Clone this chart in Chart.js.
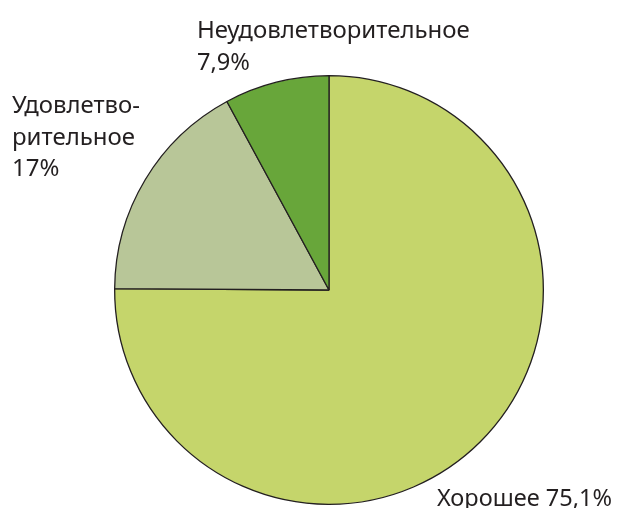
<!DOCTYPE html>
<html>
<head>
<meta charset="utf-8">
<script src="https://cdn.jsdelivr.net/npm/chart.js@4/dist/chart.umd.min.js"></script>
<style>
  html, body { margin: 0; padding: 0; background: #fff; }
  #wrap { width: 618px; height: 508px; }
</style>
</head>
<body>
<div id="wrap"><canvas id="pie" width="618" height="508"></canvas></div>
<script>
const categories = ['Хорошее', 'Удовлетворительное', 'Неудовлетворительное'];
const values = [75.1, 17, 7.9];
const valueLabels = ['75,1%', '17%', '7,9%'];
const colors = ['#c5d56b', '#b8c698', '#68a63a'];

// label text lines per slice, with anchor x and baseline y
const labelLines = [
    [{ t: categories[0] + ' ' + valueLabels[0], x: 437, y: 506, w: 175 }],
    [{ t: 'Удовлетво-', x: 12, y: 113, w: 128 },
     { t: 'рительное', x: 12, y: 145, w: 124 },
     { t: valueLabels[1], x: 12, y: 176, w: 48 }],
    [{ t: categories[2], x: 197, y: 38, w: 273 },
     { t: valueLabels[2], x: 197, y: 70, w: 53 }]
];

const labelPlugin = {
    id: 'sliceLabels',
    afterDraw(chart) {
        const ctx = chart.ctx;
        ctx.save();
        ctx.fillStyle = '#231f20';
        ctx.font = '24px "Noto Sans", sans-serif';
        ctx.textBaseline = 'alphabetic';
        ctx.textAlign = 'left';
        labelLines.forEach(function(lines){
            lines.forEach(function(l){
                ctx.fillText(l.t, l.x, l.y, l.w);
            });
        });
        ctx.restore();
    }
};

new Chart(document.getElementById('pie'), {
    type: 'pie',
    data: {
        labels: categories,
        datasets: [{
            data: values,
            backgroundColor: colors,
            borderColor: '#231f20',
            borderWidth: 1.3,
            borderAlign: 'center'
        }]
    },
    options: {
        responsive: false,
        animation: false,
        layout: { padding: { left: 114, right: 74, top: 75, bottom: 3 } },
        plugins: {
            legend: { display: false },
            tooltip: { enabled: false }
        }
    },
    plugins: [labelPlugin]
});
</script>
</body>
</html>
